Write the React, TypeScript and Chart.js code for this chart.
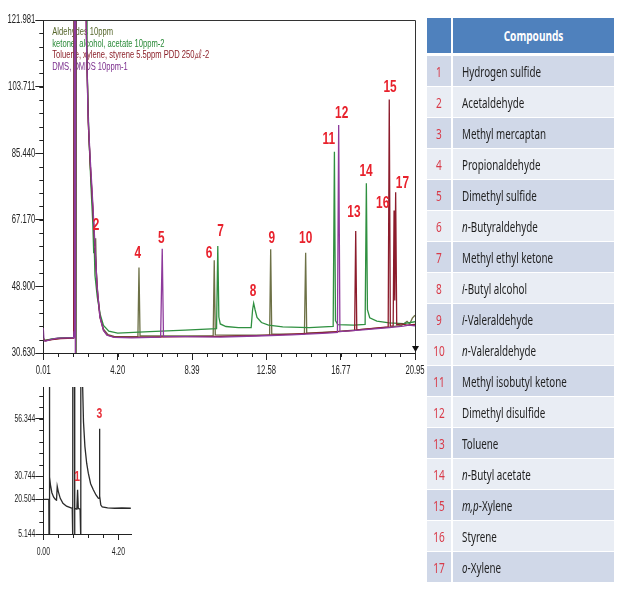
import React, { useEffect, useRef } from "react";
import { Chart, registerables } from "chart.js";
Chart.register(...registerables);

// ---------- main chromatogram data ----------
const seriesNames = [
  "Aldehydes 10ppm",
  "ketone, alcohol, acetate 10ppm-2",
  "Toluene, xylene, styrene 5.5ppm PDD 250㎕-2",
  "DMS, DMDS 10ppm-1",
];

const aldehydeTime = [0.01, 0.1, 0.5, 1.0, 1.72, 1.79, 1.84, 1.88, 2.43, 2.45, 2.56, 2.68, 2.8, 2.9, 2.96, 3.0, 3.08, 3.22, 3.4, 3.65, 4.0, 5.0, 5.34, 5.4, 5.46, 7.0, 9.58, 9.64, 9.7, 11.0, 12.76, 12.82, 12.88, 14.72, 14.79, 14.85, 16.5, 18.0, 19.5, 20.2, 20.5, 20.65, 20.8, 20.95];
const aldehydeSignal = [34.6, 34.0, 34.4, 34.7, 34.8, 250, 28, 250, 250, 115, 92, 80, 70, 60, 62.1, 53, 46.5, 40.5, 37.2, 35.7, 35.2, 35.1, 35.1, 54.1, 35.3, 35.3, 35.4, 56.1, 35.6, 35.5, 35.6, 59.1, 35.8, 35.9, 58.15, 36.1, 36.5, 37.1, 37.7, 38.2, 39.3, 38.6, 40.2, 41.0];

const ketoneTime = [0.01, 0.1, 0.5, 1.0, 1.72, 1.8, 1.85, 1.89, 2.45, 2.47, 2.58, 2.7, 2.8, 2.85, 2.88, 2.92, 3.05, 3.2, 3.4, 3.7, 4.2, 6.0, 8.0, 9.77, 9.84, 9.9, 9.98, 10.3, 11.0, 11.72, 11.8, 11.86, 11.94, 12.05, 12.3, 12.7, 13.5, 15.0, 16.34, 16.41, 16.47, 16.6, 17.5, 18.14, 18.21, 18.27, 18.4, 18.8, 19.5, 20.3, 20.95];
const ketoneSignal = [34.7, 34.1, 34.5, 34.8, 34.9, 250, 28, 250, 250, 110, 90, 76, 66, 58, 59.5, 52, 46, 41.5, 38.2, 36.6, 36.1, 36.5, 36.9, 37.3, 60.0, 40.5, 38.6, 37.9, 37.6, 37.6, 42.5, 44.3, 42.5, 40.4, 39.0, 38.3, 37.8, 37.6, 37.9, 85.85, 39.5, 38.4, 38.3, 38.5, 77.2, 42.5, 40.3, 39.4, 38.9, 38.7, 39.2];

const aromaticTime = [0.01, 0.1, 0.5, 1.0, 1.72, 1.78, 1.83, 1.87, 2.41, 2.43, 2.54, 2.66, 2.77, 2.89, 3.05, 3.2, 3.4, 3.6, 4.0, 6.0, 8.0, 10.0, 12.0, 14.0, 16.0, 17.55, 17.61, 17.67, 19.0, 19.44, 19.5, 19.56, 19.72, 19.77, 19.81, 19.86, 19.92, 20.2, 20.5, 20.95];
const aromaticSignal = [34.6, 34.0, 34.3, 34.6, 34.7, 250, 28, 250, 250, 120, 94, 82, 73, 62, 48, 40.5, 36.9, 35.6, 35.0, 35.0, 35.1, 35.2, 35.4, 35.8, 36.3, 36.8, 64.1, 37.0, 37.6, 37.8, 100.2, 38.0, 38.1, 69.7, 45, 74.7, 38.4, 38.6, 38.3, 38.5];

const sulfideTime = [0.01, 0.05, 0.15, 0.4, 0.8, 1.3, 1.72, 1.74, 1.76, 1.78, 1.82, 1.86, 2.4, 2.42, 2.53, 2.64, 2.75, 2.87, 3.04, 3.2, 3.4, 3.6, 4.0, 5.0, 6.62, 6.71, 6.78, 8.0, 10.0, 12.0, 14.0, 16.0, 16.58, 16.65, 16.72, 18.0, 19.5, 20.3, 20.6, 20.95];
const sulfideSignal = [37.5, 34.0, 33.9, 34.3, 34.7, 34.8, 34.8, 36.6, 34.9, 250, 28, 250, 250, 122, 96, 85, 76, 65, 49, 40.5, 36.8, 35.5, 34.9, 34.8, 35.0, 59.2, 35.1, 35.1, 35.0, 35.3, 35.6, 36.1, 36.3, 93.2, 36.5, 37.0, 37.6, 38.0, 38.3, 38.1];

const mainXTicks = [0.01, 4.2, 8.39, 12.58, 16.77, 20.95];
const mainXTickLabels = ["0.01", "4.20", "8.39", "12.58", "16.77", "20.95"];
const mainYTicks = [30.63, 48.9, 67.17, 85.44, 103.711, 121.981];
const mainYTickLabels = ["30.630", "48.900", "67.170", "85.440", "103.711", "121.981"];

const peakLabels = ["2", "4", "5", "6", "7", "8", "9", "10", "11", "12", "13", "14", "15", "16", "17"];
const peakLabelTime = [2.98, 5.33, 6.66, 9.35, 10.0, 11.82, 12.88, 14.79, 16.09, 16.82, 17.51, 18.19, 19.54, 19.13, 20.24];
const peakLabelSignal = [65.5, 57.8, 61.9, 57.8, 63.9, 47.45, 61.9, 61.9, 89.3, 96.2, 69.1, 80.4, 103.5, 71.7, 77.2];

// ---------- inset data ----------
const insetTime = [0.0, 0.31, 0.32, 0.34, 0.36, 0.4, 0.48, 0.58, 0.68, 0.74, 0.78, 0.84, 0.95, 1.1, 1.3, 1.55, 1.62, 1.64, 1.66, 1.73, 1.75, 1.77, 1.88, 1.92, 1.96, 2.06, 2.09, 2.11, 2.17, 2.19, 2.25, 2.33, 2.43, 2.52, 2.65, 2.8, 2.95, 3.08, 3.12, 3.14, 3.17, 3.22, 3.3, 3.6, 4.0, 4.4, 4.9];
const insetSignal = [20.5, 20.5, 2, 150, 30.5, 27, 23.5, 21.5, 20.5, 20.2, 26.3, 24, 21, 18.8, 17.5, 16.8, 16.6, 2, 150, 150, 2, 16.5, 16.2, 24.8, 16.5, 16.2, 2, 150, 150, 75, 55, 44, 36.5, 32.2, 27.5, 24.8, 22.5, 21.1, 21.0, 51.9, 22, 18, 17.2, 16.8, 16.6, 16.7, 16.6];
const insetXTicks = [0.0, 4.2];
const insetXTickLabels = ["0.00", "4.20"];
const insetYTicks = [5.144, 20.504, 30.744, 56.344];
const insetYTickLabels = ["5.144", "20.504", "30.744", "56.344"];
const insetPeakLabels = ["1", "3"];
const insetPeakTime = [1.9, 3.14];
const insetPeakSignal = [30.5, 58.3];

// ---------- table data ----------
const compoundNumbers = ["1", "2", "3", "4", "5", "6", "7", "8", "9", "10", "11", "12", "13", "14", "15", "16", "17"];
const compoundPrefix = ["", "", "", "", "", "n", "", "i", "i", "n", "", "", "", "n", "m,p", "", "o"];
const compoundRest = ["Hydrogen sulfide", "Acetaldehyde", "Methyl mercaptan", "Propionaldehyde", "Dimethyl sulfide", "-Butyraldehyde", "Methyl ethyl ketone", "-Butyl alcohol", "-Valeraldehyde", "-Valeraldehyde", "Methyl isobutyl ketone", "Dimethyl disulfide", "Toluene", "-Butyl acetate", "-Xylene", "Styrene", "-Xylene"];

// ---------- styles ----------
const lineColors = ["#6d7146", "#2f9040", "#8c1c2c", "#8e3a9c"];
const legendColors = ["#55652a", "#2a8a38", "#8b1f28", "#7a2d8c"];
const SANS = "'Liberation Sans', Arial, sans-serif";

function toPoints(t: number[], v: number[]) {
  return t.map((x, i) => ({ x, y: v[i] }));
}

function squeezeText(ctx: any, text: string, x: number, y: number, font: string, color: string, align: string, sx: number) {
  ctx.save();
  ctx.font = font;
  ctx.fillStyle = color;
  ctx.textAlign = align;
  ctx.textBaseline = "middle";
  ctx.translate(x, y);
  ctx.scale(sx, 1);
  ctx.fillText(text, 0, 0);
  ctx.restore();
}

function drawAxisLabels(chart: any, xLabels: string[], yLabels: string[], size: number, sx: number, xGap: number, yGap: number) {
  const { ctx, chartArea, scales } = chart;
  const font = `${size}px ${SANS}`;
  scales.x.ticks.forEach((t: any, i: number) => {
    squeezeText(ctx, xLabels[i], scales.x.getPixelForValue(t.value), chartArea.bottom + xGap, font, "#222", "center", sx);
  });
  scales.y.ticks.forEach((t: any, i: number) => {
    squeezeText(ctx, yLabels[i], chartArea.left - yGap, scales.y.getPixelForValue(t.value), font, "#222", "right", sx);
  });
}

function drawMinorTicks(chart: any, xStep: number, xStart: number, yStep: number, yStart: number, len: number, xEnd?: number) {
  const { ctx, chartArea, scales } = chart;
  const xs = scales.x, ys = scales.y;
  ctx.save();
  ctx.strokeStyle = "#222";
  ctx.lineWidth = 1;
  ctx.beginPath();
  const xLim = xEnd !== undefined ? xEnd : xs.max;
  for (let v = xStart; v <= xLim + 1e-6; v += xStep) {
    const p = Math.round(xs.getPixelForValue(v)) + 0.5;
    ctx.moveTo(p, chartArea.bottom);
    ctx.lineTo(p, chartArea.bottom + len);
  }
  for (let v = yStart; v <= ys.max + 1e-6; v += yStep) {
    const p = Math.round(ys.getPixelForValue(v)) + 0.5;
    ctx.moveTo(chartArea.left - len, p);
    ctx.lineTo(chartArea.left, p);
  }
  ctx.stroke();
  ctx.restore();
}

const mainDecor = {
  id: "mainDecor",
  beforeDatasetsDraw(chart: any) {
    const { ctx, chartArea } = chart;
    chart.data.datasets.forEach((ds: any, i: number) => {
      squeezeText(ctx, ds.label, chartArea.left + 9, chartArea.top + 12.3 + i * 11.5, `11.5px ${SANS}`, legendColors[i], "left", 0.66);
    });
  },
  afterDatasetsDraw(chart: any) {
    const { ctx, scales } = chart;
    peakLabels.forEach((lab, i) => {
      squeezeText(ctx, lab, scales.x.getPixelForValue(peakLabelTime[i]), scales.y.getPixelForValue(peakLabelSignal[i]), `bold 16px ${SANS}`, "#e8212c", "center", 0.74);
    });
  },
  afterDraw(chart: any) {
    const { ctx, chartArea } = chart;
    drawMinorTicks(chart, (mainXTicks[1] - mainXTicks[0]) / 5, mainXTicks[0], (mainYTicks[1] - mainYTicks[0]) / 5, mainYTicks[0], 4);
    drawAxisLabels(chart, mainXTickLabels, mainYTickLabels, 12, 0.64, 18, 8);
    ctx.save();
    ctx.strokeStyle = "#333";
    ctx.lineWidth = 1;
    ctx.beginPath();
    ctx.moveTo(chartArea.left, chartArea.top + 0.5);
    ctx.lineTo(chartArea.right + 0.5, chartArea.top + 0.5);
    ctx.lineTo(chartArea.right + 0.5, chartArea.bottom);
    ctx.stroke();
    ctx.fillStyle = "#111";
    ctx.beginPath();
    ctx.moveTo(chartArea.right - 3, chartArea.bottom - 7);
    ctx.lineTo(chartArea.right + 4, chartArea.bottom - 7);
    ctx.lineTo(chartArea.right + 0.5, chartArea.bottom - 1);
    ctx.closePath();
    ctx.fill();
    ctx.restore();
  },
};

const insetDecor = {
  id: "insetDecor",
  afterDatasetsDraw(chart: any) {
    const { ctx, scales } = chart;
    insetPeakLabels.forEach((lab, i) => {
      squeezeText(ctx, lab, scales.x.getPixelForValue(insetPeakTime[i]), scales.y.getPixelForValue(insetPeakSignal[i]), `bold 14px ${SANS}`, "#e8303a", "center", 0.74);
    });
  },
  afterDraw(chart: any) {
    drawMinorTicks(chart, (insetXTicks[1] - insetXTicks[0]) / 5, insetXTicks[0], (insetYTicks[1] - insetYTicks[0]) / 3, insetYTicks[0], 4, insetXTicks[1]);
    drawAxisLabels(chart, insetXTickLabels, insetYTickLabels, 11, 0.62, 18, 8);
  },
};

function axisOptions(min: number, max: number, ticks: number[], tickLength: number, fit: (s: any) => void) {
  return {
    type: "linear",
    min,
    max,
    afterBuildTicks: (s: any) => { s.ticks = ticks.map((v) => ({ value: v })); },
    afterFit: fit,
    ticks: { display: false, autoSkip: false },
    grid: { drawOnChartArea: false, drawTicks: true, tickLength, tickColor: "#222" },
    border: { display: true, color: "#222", width: 1 },
  };
}

function MainChart() {
  const ref = useRef<HTMLCanvasElement>(null);
  useEffect(() => {
    const series = [
      toPoints(aldehydeTime, aldehydeSignal),
      toPoints(ketoneTime, ketoneSignal),
      toPoints(aromaticTime, aromaticSignal),
      toPoints(sulfideTime, sulfideSignal),
    ];
    const drawOrder = [3, 2, 1, 0];
    const chart = new Chart(ref.current!, {
      type: "line",
      data: {
        datasets: series.map((d, i) => ({
          label: seriesNames[i],
          data: d,
          borderColor: lineColors[i],
          borderWidth: 1.3,
          pointRadius: 0,
          tension: 0,
          fill: false,
          order: drawOrder[i],
        })),
      },
      options: {
        responsive: false,
        animation: false,
        events: [],
        layout: { padding: { top: 20, right: 15, left: 0, bottom: 0 } },
        plugins: { legend: { display: false }, tooltip: { enabled: false } },
        scales: {
          x: axisOptions(0.01, 20.95, mainXTicks, 7, (s: any) => { s.height = 27; }),
          y: axisOptions(30.63, 121.981, mainYTicks, 8, (s: any) => { s.width = 43.3; }),
        },
      } as any,
      plugins: [mainDecor],
    });
    return () => chart.destroy();
  }, []);
  return <canvas ref={ref} width={430} height={380} style={{ position: "absolute", left: 0, top: 0 }} />;
}

function InsetChart() {
  const ref = useRef<HTMLCanvasElement>(null);
  useEffect(() => {
    const chart = new Chart(ref.current!, {
      type: "line",
      data: {
        datasets: [{
          label: "inset",
          data: toPoints(insetTime, insetSignal),
          borderColor: "#2a2a2a",
          borderWidth: 1.3,
          pointRadius: 0,
          tension: 0,
          fill: false,
        }],
      },
      options: {
        responsive: false,
        animation: false,
        events: [],
        layout: { padding: { top: 7, right: 9, left: 0, bottom: 0 } },
        plugins: { legend: { display: false }, tooltip: { enabled: false } },
        scales: {
          x: axisOptions(0, 4.91, insetXTicks, 6, (s: any) => { s.height = 26; }),
          y: axisOptions(5.144, 70.5, insetYTicks, 8, (s: any) => { s.width = 43.3; }),
        },
      } as any,
      plugins: [insetDecor],
    });
    return () => chart.destroy();
  }, []);
  return <canvas ref={ref} width={140} height={180} style={{ position: "absolute", left: 0, top: 380 }} />;
}

const TABLE_FONT = "'Noto Sans', 'Open Sans', 'Liberation Sans', sans-serif";

function Squeeze({ children }: any) {
  return (
    <span style={{ display: "inline-block", transform: "scaleX(0.7)", transformOrigin: "left center", whiteSpace: "nowrap" }}>
      {children}
    </span>
  );
}

function CompoundTable() {
  return (
    <div style={{ position: "absolute", left: 427, top: 18, width: 187, fontFamily: TABLE_FONT, fontSize: 14 }}>
      <div style={{ display: "flex", height: 35, background: "#4f81bd" }}>
        <div style={{ width: 24 }} />
        <div style={{ width: 2, background: "#ffffff" }} />
        <div style={{ flex: 1, display: "flex", alignItems: "center", justifyContent: "center", color: "#fff", fontWeight: 700 }}>
          <span style={{ display: "inline-block", transform: "scaleX(0.72)", whiteSpace: "nowrap" }}>Compounds</span>
        </div>
      </div>
      <div style={{ height: 3 }} />
      {compoundNumbers.map((num, i) => (
        <div key={num} style={{ display: "flex", height: 31, borderBottom: "1px solid #fff", boxSizing: "border-box", background: i % 2 === 0 ? "#d0d8e8" : "#e9edf4" }}>
          <div style={{ width: 24, display: "flex", alignItems: "center", justifyContent: "center", color: "#d83a48" }}>
            <span style={{ display: "inline-block", transform: "scaleX(0.72)", whiteSpace: "nowrap" }}>{num}</span>
          </div>
          <div style={{ width: 2, background: "#ffffff" }} />
          <div style={{ flex: 1, display: "flex", alignItems: "center", paddingLeft: 9, color: "#1f1f1f" }}>
            <Squeeze>
              {compoundPrefix[i] ? <i>{compoundPrefix[i]}</i> : null}
              {compoundRest[i]}
            </Squeeze>
          </div>
        </div>
      ))}
    </div>
  );
}

export default function App() {
  return (
    <div style={{ position: "absolute", left: 0, top: 0, width: 624, height: 592, background: "#fff", overflow: "hidden" }}>
      <MainChart />
      <InsetChart />
      <CompoundTable />
    </div>
  );
}
